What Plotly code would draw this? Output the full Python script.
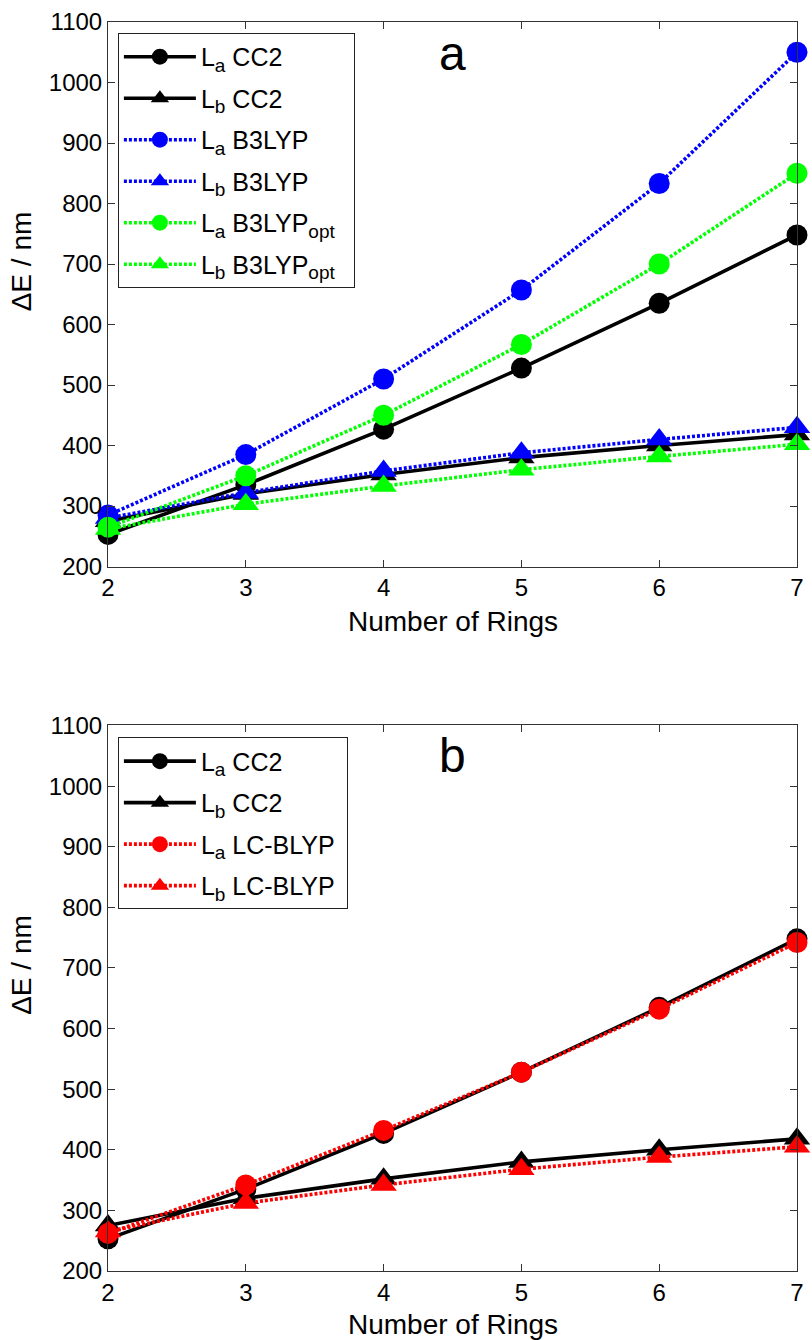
import plotly.graph_objects as go

rings = [2, 3, 4, 5, 6, 7]

la_cc2 = [253, 335, 427, 528, 635, 748]
lb_cc2 = [275, 320, 352, 380, 400, 418]
la_b3lyp = [285, 385, 510, 657, 833, 1050]
lb_b3lyp = [280, 322, 358, 388, 410, 430]
la_b3lyp_opt = [265, 350, 450, 567, 700, 850]
lb_b3lyp_opt = [262, 303, 333, 360, 382, 402]
la_lcblyp = [262, 342, 432, 528, 632, 742]
lb_lcblyp = [265, 312, 342, 368, 388, 405]

def sub(s):
    return "<sub><span style='font-size:19px'>%s</span></sub>" % s

NB = "\u00a0"
names_a = ["L" + sub("a") + " CC2", "L" + sub("b") + " CC2", "L" + sub("a") + " B3LYP",
           "L" + sub("b") + " B3LYP", "L" + sub("a") + " B3LYP" + sub("opt") + NB * 2,
           "L" + sub("b") + " B3LYP" + sub("opt") + NB * 2]
names_b = ["L" + sub("a") + " CC2", "L" + sub("b") + " CC2",
           "L" + sub("a") + " LC-BLYP" + NB, "L" + sub("b") + " LC-BLYP" + NB]
x_title = "Number of Rings"
y_title = "ΔE / nm"

FONT = "Liberation Sans, Arial, sans-serif"
DOT = "3px,2px"

fig = go.Figure()
counter = [0]

def add(y, name, color, dash, symbol, xa, ya, legend):
    counter[0] += 1
    size = 21 if symbol == "circle" else 23
    fig.add_trace(go.Scatter(
        x=rings, y=y, name=name, mode="lines+markers",
        legendgroup="g%d" % counter[0],
        line=dict(color=color, width=3.6, dash=dash),
        marker=dict(symbol=symbol, size=size, color=color, line=dict(width=0)),
        xaxis=xa, yaxis=ya, legend=legend, cliponaxis=False))

# panel a
add(la_cc2, names_a[0], "#000000", "solid", "circle", "x", "y", "legend")
add(lb_cc2, names_a[1], "#000000", "solid", "triangle-up", "x", "y", "legend")
add(la_b3lyp, names_a[2], "#0000FF", DOT, "circle", "x", "y", "legend")
add(lb_b3lyp, names_a[3], "#0000FF", DOT, "triangle-up", "x", "y", "legend")
add(la_b3lyp_opt, names_a[4], "#00FF00", DOT, "circle", "x", "y", "legend")
add(lb_b3lyp_opt, names_a[5], "#00FF00", DOT, "triangle-up", "x", "y", "legend")

# panel b
add(la_cc2, names_b[0], "#000000", "solid", "circle", "x2", "y2", "legend2")
add(lb_cc2, names_b[1], "#000000", "solid", "triangle-up", "x2", "y2", "legend2")
add(la_lcblyp, names_b[2], "#FF0000", DOT, "circle", "x2", "y2", "legend2")
add(lb_lcblyp, names_b[3], "#FF0000", DOT, "triangle-up", "x2", "y2", "legend2")

axis_common = dict(showline=True, linecolor="#333333", linewidth=1, mirror="ticks",
                   ticks="inside", ticklen=7, tickcolor="#333333", showgrid=False,
                   zeroline=False, tickfont=dict(size=24, color="black", family=FONT))
xcommon = dict(axis_common, range=[2, 7], dtick=1, tick0=2)
ycommon = dict(axis_common, range=[200, 1100], dtick=100, tick0=200)

W, H = 812, 1340
L, R, T, B = 108, 8, 14, 69
ph = H - T - B
pw = W - L - R

def py(p):
    return 1 - (p - T) / ph

def px(p):
    return (p - L) / pw

top_lo = py(562)
bot_hi = py(722)

leg_common = dict(bgcolor="white", bordercolor="#222222", borderwidth=1,
                  font=dict(size=25, family=FONT, color="black"),
                  itemwidth=72, xanchor="left", yanchor="top", tracegroupgap=6,
                  traceorder="grouped")

ann = []
for yc_x, yc_y in [(617, 255), (1325, 963)]:
    ann.append(dict(text=x_title, x=0.5, y=py(yc_x), xref="paper", yref="paper",
                    xanchor="center", yanchor="middle", showarrow=False,
                    font=dict(size=28, family=FONT, color="black")))
    ann.append(dict(text=y_title, x=px(21), y=py(yc_y), xref="paper", yref="paper",
                    xanchor="center", yanchor="middle", showarrow=False, textangle=-90,
                    font=dict(size=28, family=FONT, color="black")))
ann.append(dict(text="a", x=4.5, y=py(46), xref="x", yref="paper", xanchor="center",
                yanchor="middle", showarrow=False, font=dict(size=48, family=FONT, color="black")))
ann.append(dict(text="b", x=4.5, y=py(752), xref="x2", yref="paper", xanchor="center",
                yanchor="middle", showarrow=False, font=dict(size=48, family=FONT, color="black")))

fig.update_layout(
    width=W, height=H,
    margin=dict(l=L, r=R, t=T, b=B),
    paper_bgcolor="white", plot_bgcolor="white",
    font=dict(family=FONT, color="black"),
    xaxis=dict(xcommon, domain=[0, 1], anchor="y"),
    yaxis=dict(ycommon, domain=[top_lo, 1], anchor="x"),
    xaxis2=dict(xcommon, domain=[0, 1], anchor="y2"),
    yaxis2=dict(ycommon, domain=[0, bot_hi], anchor="x2"),
    legend=dict(leg_common, x=px(118), y=py(25)),
    legend2=dict(leg_common, x=px(118), y=py(734)),
    annotations=ann,
    showlegend=True,
)

fig.write_html("out.html", config={"displayModeBar": False},
               post_script="document.body.style.margin='0';document.body.style.overflow='hidden';")
